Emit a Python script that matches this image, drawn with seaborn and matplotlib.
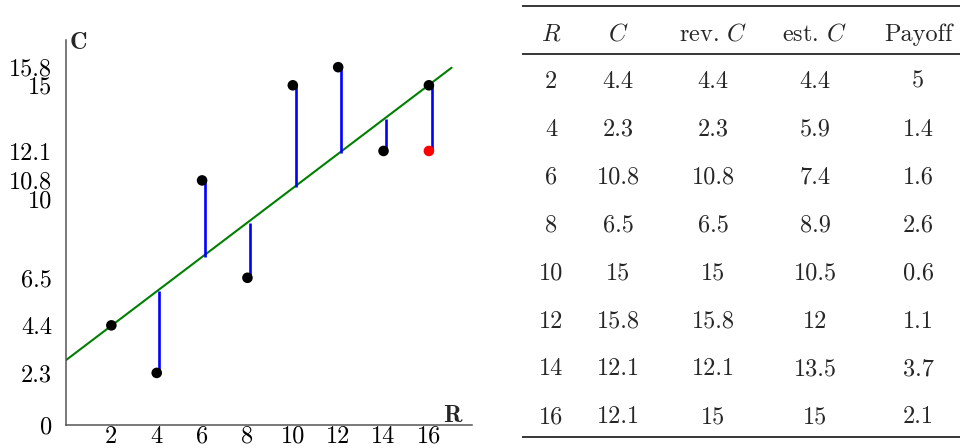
import numpy as np
import matplotlib
matplotlib.use("Agg")
import matplotlib.pyplot as plt
import seaborn as sns

# Data
R = [2, 4, 6, 8, 10, 12, 14, 16]
C = [4.4, 2.3, 10.8, 6.5, 15, 15.8, 12.1, 12.1]
rev_C = [4.4, 2.3, 10.8, 6.5, 15, 15.8, 12.1, 15]
est_C = [4.4, 5.9, 7.4, 8.9, 10.5, 12, 13.5, 15]
payoff = [5, 1.4, 1.6, 2.6, 0.6, 1.1, 3.7, 2.1]

x_ticks = [2, 4, 6, 8, 10, 12, 14, 16]
y_ticks = [0, 2.3, 4.4, 6.5, 10, 10.8, 12.1, 15, 15.8]
headers = ["$R$", "$C$", "rev. $C$", "est. $C$", "Payoff"]

sns.set_theme(style="white")
plt.rcParams["font.family"] = ["cmr10", "DejaVu Serif"]
plt.rcParams["mathtext.fontset"] = "cm"
plt.rcParams["axes.unicode_minus"] = False
plt.rcParams["axes.formatter.use_mathtext"] = True

FS = 17.5
W, H = 960, 448
fig = plt.figure(figsize=(W / 100, H / 100), dpi=100)
fig.patch.set_facecolor("white")

# ---- scatter with estimate line and residuals ----
ax = fig.add_axes([66 / W, 23 / H, 406 / W, 385 / H])
ax.set_xlim(0, 17.9)
ax.set_ylim(0, 17.0)

R_arr = np.array(R, dtype=float)
slope, intercept = np.polyfit(R_arr, np.array(est_C), 1)
x_line = np.array([0.0, 17.0])
sns.lineplot(x=x_line, y=intercept + slope * x_line, ax=ax,
             color="#008000", linewidth=1.5, zorder=2)

ax.vlines(R_arr + 0.12, C, est_C, colors="#0000ff", linewidth=1.9, zorder=3)

changed = [c != r for c, r in zip(C, rev_C)]
sns.scatterplot(x=R, y=rev_C, ax=ax, color="black", s=58,
                edgecolor="none", zorder=4)
sns.scatterplot(x=[r for r, m in zip(R, changed) if m],
                y=[c for c, m in zip(C, changed) if m],
                ax=ax, color="#ff0000", s=58, edgecolor="none", zorder=4)

for side in ("top", "right"):
    ax.spines[side].set_visible(False)
for side in ("left", "bottom"):
    ax.spines[side].set_color("#555555")
    ax.spines[side].set_linewidth(1.1)

ax.set_xticks(x_ticks)
ax.set_xticklabels([f"{v:g}" for v in x_ticks])
ax.set_yticks(y_ticks)
ax.set_yticklabels([f"{v:g}" for v in y_ticks])
ax.tick_params(axis="both", length=0, labelsize=FS, colors="black")
ax.tick_params(axis="y", pad=10)
ax.tick_params(axis="x", pad=0.5)
ax.set_xlabel("")
ax.set_ylabel("")

ax.text(0.15, 16.6, "C", fontfamily="cmb10", fontsize=FS,
        ha="left", va="baseline")
ax.text(16.63, 0.15, "R", fontfamily="cmb10", fontsize=FS,
        ha="left", va="baseline")

# ---- table ----
tx = fig.add_axes([0, 0, 1, 1], facecolor="none")
tx.set_xlim(0, W)
tx.set_ylim(H, 0)
tx.axis("off")

col_x = [551, 618, 713, 815, 918]
header_base = 40.5
row_base0 = 88
row_step = 47.9

for xc, h in zip(col_x, headers):
    tx.text(xc, header_base, h, fontsize=FS, ha="center", va="baseline")

columns = [R, C, rev_C, est_C, payoff]
for i in range(len(R)):
    yb = row_base0 + i * row_step
    for xc, col in zip(col_x, columns):
        tx.text(xc, yb, f"{col[i]:g}", fontsize=FS, ha="center", va="baseline")

for yr in (5.7, 54, 437):
    tx.plot([522, 960], [yr, yr], color="black", linewidth=1.1,
            solid_capstyle="butt")

fig.savefig("out.png", dpi=100, facecolor="white")
